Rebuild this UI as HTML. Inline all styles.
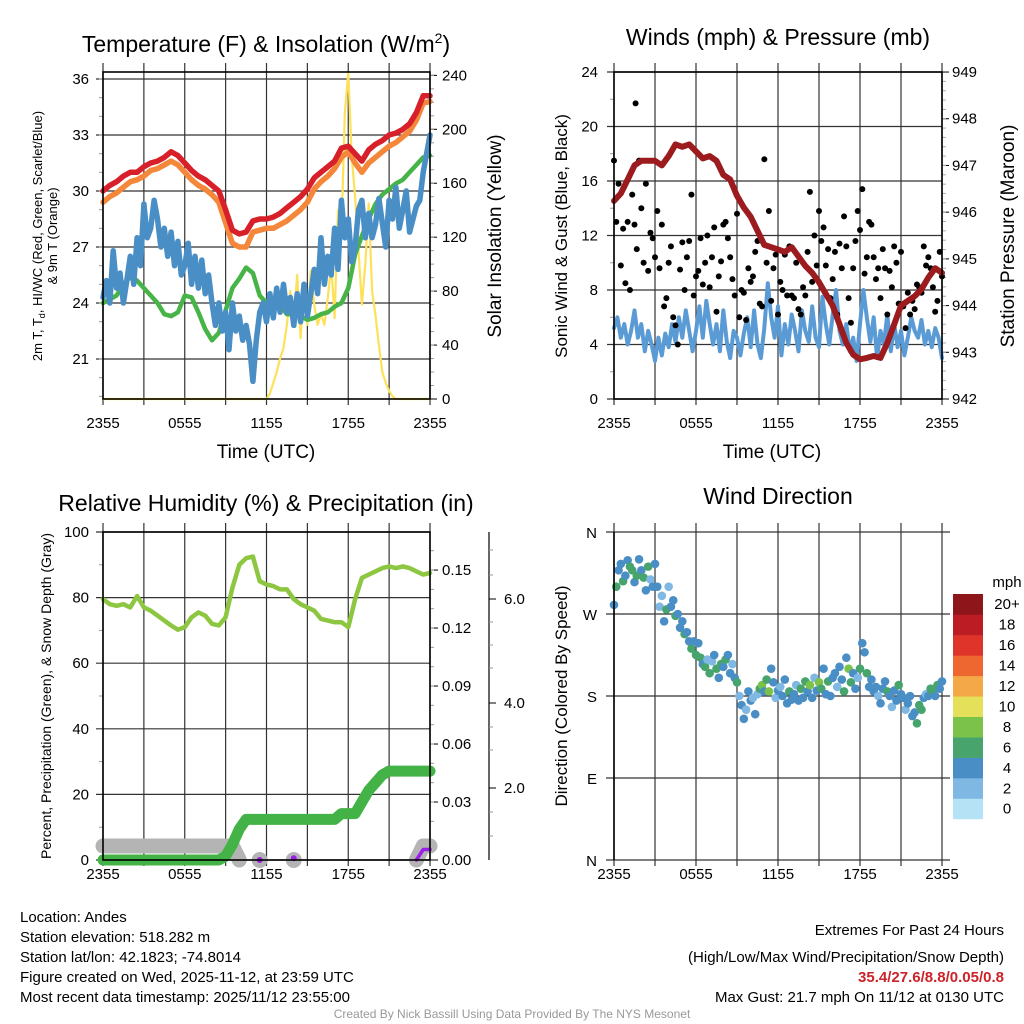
<!DOCTYPE html>
<html><head><meta charset="utf-8"><title>Mesonet Station Meteogram</title>
<style>
html,body{margin:0;padding:0;background:#fff;}
svg{display:block;font-family:"Liberation Sans",Arial,sans-serif;}
</style></head>
<body>
<svg id="chart" width="1024" height="1024" viewBox="0 0 1024 1024" xmlns="http://www.w3.org/2000/svg">
<rect x="0" y="0" width="1024" height="1024" fill="#fff"/>
</svg>
<script>
// ---------- DATA (series span 24h; time derived from index) ----------
const xTickLabels = ["2355","0555","1155","1755","2355"];
const tempTicks = [21,24,27,30,33,36];
const solarTicks = [0,40,80,120,160,200,240];
const windTicks = [0,4,8,12,16,20,24];
const presTicks = [942,943,944,945,946,947,948,949];
const rhTicks = [0,20,40,60,80,100];
const precipTicks = [0,0.03,0.06,0.09,0.12,0.15];
const precipTickLabels = ["0.00","0.03","0.06","0.09","0.12","0.15"];
const snowTickLabels = ["2.0","4.0","6.0"];
const dirTickLabels = ["N","W","S","E","N"];
const dirTicks = [360,270,180,90,0];
const cbarLabels = ["0","2","4","6","8","10","12","14","16","18","20+"];
const cbarColors = ["#b6e2f6","#7fb9e3","#4a8ec6","#47a46c","#7bc24b","#e5e05a","#f4a847","#ee6630","#df3429","#bc1c24","#8e1519"];

const temp2m = [30.0,30.3,30.5,30.8,31.0,31.0,31.3,31.5,31.6,31.8,32.1,31.9,31.5,31.1,30.8,30.6,30.3,30.0,29.0,27.9,27.7,27.8,28.4,28.5,28.5,28.6,28.8,29.1,29.4,29.7,30.1,30.7,31.0,31.3,31.6,32.3,32.4,32.0,31.6,32.2,32.5,32.7,33.0,33.1,33.3,33.6,34.2,35.1,35.1];
const temp9m = [29.4,29.7,29.9,30.2,30.5,30.6,30.8,31.1,31.2,31.4,31.6,31.4,31.0,30.6,30.3,30.1,29.8,29.4,28.3,27.2,27.0,27.0,27.8,27.9,28.0,28.0,28.2,28.4,28.7,29.0,29.4,30.1,30.5,30.8,31.2,31.8,32.1,31.5,31.0,31.5,31.8,32.1,32.4,32.6,32.9,33.2,33.8,34.7,34.8];
const heatWc = [24.0,24.2,24.4,25.0,25.4,25.2,24.8,24.4,24.0,23.4,23.3,23.5,24.4,24.3,23.5,22.6,22.0,22.4,23.6,24.8,25.3,25.9,25.6,24.4,24.0,23.9,23.9,23.4,23.4,23.3,23.1,23.2,23.4,23.5,23.8,24.0,24.8,26.6,27.6,28.5,29.3,29.8,30.1,30.4,30.6,31.0,31.4,31.8,31.9];
const dewpoint = [24.3,25.2,24.0,26.8,24.8,25.6,24.0,25.2,26.5,25.0,27.5,26.0,29.3,27.5,28.0,29.5,28.5,27.0,28.0,26.5,27.8,26.0,27.3,25.5,26.0,27.2,25.0,26.5,24.8,26.3,24.5,25.5,24.0,22.8,24.0,22.5,23.5,21.5,24.0,22.5,23.3,22.0,22.8,21.8,19.8,22.0,23.5,24.0,23.0,24.5,23.2,24.8,23.5,25.0,23.5,24.3,22.8,24.5,23.0,25.0,23.3,24.5,25.8,24.5,27.5,25.0,26.5,25.5,28.0,25.8,29.5,27.5,28.5,26.2,27.0,29.0,29.5,27.5,28.8,27.5,28.2,29.6,28.3,27.0,29.5,28.5,30.2,28.0,29.0,30.0,27.8,28.5,29.2,29.5,31.0,32.0,33.0];
const solar = [0,0,0,0,0,0,0,0,0,0,0,0,0,0,0,0,0,0,0,0,0,0,0,0,0,0,0,0,0,0,0,0,0,0,0,0,0,0,0,0,0,0,0,0,0,0,0,0,0,4,12,20,30,38,55,80,60,92,45,85,55,95,70,55,63,55,75,100,60,140,122,212,242,180,150,110,70,100,145,80,62,40,20,12,6,2,0,0,0,0,0,0,0,0,0,0,0];
const windSpeed = [5.2,6.0,4.5,5.5,4.0,5.0,6.5,4.5,5.5,3.5,5.0,4.0,2.8,4.5,3.2,4.8,3.8,5.5,4.2,6.0,4.5,6.5,5.0,3.5,5.0,6.8,4.5,7.2,5.5,4.0,5.5,3.5,6.5,4.2,3.0,5.0,4.5,3.2,4.8,6.0,3.8,6.5,4.0,3.0,5.2,8.5,6.0,4.5,6.8,3.2,5.5,4.0,6.2,5.0,3.5,6.5,5.0,4.2,6.8,4.5,3.8,7.5,5.5,4.0,6.2,8.0,5.0,4.0,5.5,3.5,4.5,2.8,5.5,8.0,6.0,4.2,6.0,3.0,5.0,4.0,6.2,3.5,5.5,3.8,5.0,3.2,4.5,6.0,5.0,4.5,5.8,4.0,5.0,3.8,5.2,4.5,3.0];
const gusts = [17.5,13,15.8,9.8,12.5,8.5, 13,8,15,12.8,11,17.5, 14,10,15.8,9.4,12.2,11.8, 10.4,13.8,9.6,12.8,6.8,7.4, 10,11.2,6,5.4,4,9.5, 11.5,8,10.4,11.6,15,7.6, 9,9.4,11.8,8.4,10,12, 8.2,10.4,12.6,6.4,9,10.1, 12.8,13,11.8,10.4,8.8,7.6, 13.6,6,8,7.8,5.8,9.6, 8.6,9,10.8,11.6,7,6.8, 17.6,10,13.8,7.2,9.6,10.6, 6.2,8.6,8,10.6,7.6,11.2, 7.6,7.4,10,6.6,6.2,8.2, 7.6,10.8,15.2,8.6,12,9.8, 13.8,11.6,12.6,9.8,11,7.4, 8.8,10.8,6.2,11.4,9.6,13.4, 11.2,7.4,5.6,9.6,11.6,13.8, 12.4,15.4,9.2,10.4,13.0,12.8, 10.4,8.8,9.6,7.4,11.0,9.6, 6.2,9.4,8.2,11.2,10.0,7.0, 10.8,6.8,5.2,7.8,6.2,7.2, 6.6,8.4,8.2,7.8,11.2,9.8, 10.4,9.6,8.2,6.4,7.2,10.8,9.0];
const maxGust = 21.7;
const maxGustHour = 1.58;
const pressure = [946.24,946.4,946.7,947.0,947.1,947.1,947.1,947.0,947.2,947.45,947.4,947.45,947.3,947.15,947.2,947.1,946.8,946.7,946.35,946.1,945.9,945.6,945.3,945.25,945.2,945.15,945.25,945.05,944.85,944.7,944.5,944.25,944.0,943.6,943.2,942.95,942.85,942.88,942.92,942.88,943.2,943.6,944.0,944.1,944.2,944.35,944.6,944.8,944.7];
const rh = [79.5,78,77.5,78,77,80.5,77,76,74.5,73,71.5,70.2,71,74,75.5,74.5,72,71.5,74,83,90,92,92.5,85,84,83.5,82.5,82.5,79.5,78,77,76,73.5,73,72.5,72.5,71,79.5,86,87,88,89,89.5,89,89.5,89,88,87,87.5];
const precip = [0,0,0,0,0,0,0,0,0,0,0,0,0,0,0,0,0,0,0.002,0.008,0.016,0.021,0.021,0.021,0.021,0.021,0.021,0.021,0.021,0.021,0.021,0.021,0.021,0.021,0.021,0.024,0.024,0.024,0.030,0.036,0.040,0.044,0.046,0.046,0.046,0.046,0.046,0.046,0.046];
const snowDepth = [0.8,0.8,0.8,0.8,0.8,0.8,0.8,0.8,0.8,0.8,0.8,0.8,0.8,0.8,0.8,0.8,0.8,0.8,0.8,0.8,0,null,null,0,null,null,null,null,0,null,null,null,null,null,null,null,null,null,null,null,null,null,null,null,null,null,0,0.8,0.8];
const newSnow = [null,null,null,null,null,null,null,null,null,null,null,null,null,null,null,null,null,null,null,null,null,null,null,0,null,null,null,null,0.1,null,null,null,null,null,null,null,null,null,null,null,null,null,null,null,null,null,0,0.6,0.6];
const windDir = [280,300,318,325,306,312, 329,322,318,305,312,330, 318,310,296,322,308,300, 325,300,278,290,262,275, 300,278,285,268,270,255, 262,248,250,240,232,240, 225,238,222,215,212,220, 205,218,225,210,200,215, 212,220,225,205,215,200, 195,180,170,155,165,185, 175,178,160,182,188,192, 185,198,185,210,195,178, 186,190,180,198,172,185, 176,182,192,175,188,178, 196,185,192,178,200,186, 195,188,210,182,196,180, 200,205,190,212,198,185, 222,210,195,205,188,200, 210,238,228,205,190,198, 185,190,180,172,188,196, 185,180,168,186,175,192, 182,178,165,172,180,158, 162,150,170,165,178,182, 180,188,185,180,192,188,196];
const dirSpeed = [4,6,4,4,6,4, 4,6,6,4,6,4, 4,6,4,6,2,4, 4,4,2,2,4,6, 2,4,4,6,4,4, 4,6,4,4,6,4, 6,4,6,4,6,2, 6,2,4,6,4,6, 4,6,4,4,2,4, 6,2,4,4,2,4, 4,2,4,2,6,8, 4,6,8,4,4,2, 4,2,4,4,4,6, 4,4,2,4,6,4, 6,4,8,4,2,4, 8,6,4,4,6,4, 4,4,2,4,4,6, 4,8,6,4,4,2, 6,4,4,6,4,4, 4,4,2,4,4,4, 6,4,2,4,4,6, 4,4,2,4,4,4, 4,6,6,6,4,2, 4,6,6,4,6,4,4];

// ---------- DRAWING ----------
const NS = "http://www.w3.org/2000/svg";
const svg = document.getElementById("chart");
function mk(tag, attrs, name, parent) {
  const el = document.createElementNS(NS, tag);
  for (const k in attrs) el.setAttribute(k, attrs[k]);
  
  
  (parent || svg).appendChild(el);
  return el;
}
function txt(x, y, s, size, anchor, name, parent, extra) {
  const a = {x: x, y: y, "font-size": size, "text-anchor": anchor || "start", fill: "#000"};
  if (extra) for (const k in extra) a[k] = extra[k];
  const el = mk("text", a, name, parent);
  el.textContent = s;
  return el;
}
function xScale(L, R) { return t => L + t / 24 * (R - L); }
function series(vals, xs, ys) {
  const n = vals.length; let d = ""; let pen = false;
  for (let i = 0; i < n; i++) {
    const v = vals[i];
    if (v === null) { pen = false; continue; }
    const x = xs(i * 24 / (n - 1)), y = ys(v);
    d += (pen ? "L" : "M") + x.toFixed(1) + " " + y.toFixed(1);
    pen = true;
  }
  return d;
}
function isolated(vals, xs, ys, r, color, name, g) {
  const n = vals.length;
  for (let i = 0; i < n; i++) {
    if (vals[i] === null) continue;
    const prev = i > 0 ? vals[i - 1] : null, next = i < n - 1 ? vals[i + 1] : null;
    if (prev === null && next === null) {
      mk("circle", {cx: xs(i * 24 / (n - 1)), cy: ys(vals[i]), r: r, fill: color}, name, g);
    }
  }
}
function frame(P, name, lblOff) {
  const g = mk("g", {}, name);
  const xs = xScale(P.L, P.R);
  for (let h = 0; h <= 24; h += 3) {
    const x = xs(h);
    mk("line", {x1: x, x2: x, y1: P.T - 9, y2: P.B + 6, stroke: "#333", "stroke-width": 1.2}, "x-gridline", g);
  }
  for (let i = 0; i < xTickLabels.length; i++) {
    txt(xs(i * 6), P.B + lblOff, xTickLabels[i], 15, "middle", "x-tick-label", g);
  }
  return g;
}
function hgrid(P, y, g, extL, extR) {
  mk("line", {x1: P.L - (extL || 7), x2: P.R + (extR || 0), y1: y, y2: y, stroke: "#333", "stroke-width": 1.2}, "y-gridline", g);
}
function box(P, g) {
  mk("rect", {x: P.L, y: P.T, width: P.R - P.L, height: P.B - P.T, fill: "none", stroke: "#000", "stroke-width": 1.6}, "plot-frame", g);
}

// ===== Panel 1 =====
const P1 = {L: 103, R: 430, T: 72, B: 399};
const x1s = xScale(P1.L, P1.R);
const yT = v => 359 - (v - 21) * 18.667;
const yS = v => 399 - v * 1.3485;
const g1 = frame(P1, "temperature-panel", 29);
tempTicks.forEach(v => { hgrid(P1, yT(v), g1); txt(P1.L - 14, yT(v) + 5, String(v), 15, "end", "temp-tick-label", g1); });
for (let v = 19; v <= 36; v++) mk("line", {x1: P1.L - 4, x2: P1.L, y1: yT(v), y2: yT(v), stroke: "#999"}, "temp-minor-tick", g1);
solarTicks.forEach(v => {
  mk("line", {x1: P1.R, x2: P1.R + 7, y1: yS(v), y2: yS(v), stroke: "#000"}, "solar-tick", g1);
  txt(P1.R + 12, yS(v) + 5, String(v), 15, "start", "solar-tick-label", g1);
});
for (let v = 10; v <= 240; v += 10) mk("line", {x1: P1.R, x2: P1.R + 4, y1: yS(v), y2: yS(v), stroke: "#999"}, "solar-minor-tick", g1);
mk("path", {d: series(solar, x1s, yS), fill: "none", stroke: "#fde15a", "stroke-width": 2.2, "stroke-linejoin": "round"}, "solar-insolation-line", g1);
mk("path", {d: series(heatWc, x1s, yT), fill: "none", stroke: "#46b446", "stroke-width": 4.5, "stroke-linejoin": "round", "stroke-linecap": "round"}, "heat-index-line", g1);
mk("path", {d: series(dewpoint, x1s, yT), fill: "none", stroke: "#4a8ec6", "stroke-width": 5.5, "stroke-linejoin": "round", "stroke-linecap": "round"}, "dewpoint-line", g1);
mk("path", {d: series(temp9m, x1s, yT), fill: "none", stroke: "#f4873a", "stroke-width": 5.5, "stroke-linejoin": "round", "stroke-linecap": "round"}, "temp-9m-line", g1);
mk("path", {d: series(temp2m, x1s, yT), fill: "none", stroke: "#d7202a", "stroke-width": 5.5, "stroke-linejoin": "round", "stroke-linecap": "round"}, "temp-2m-line", g1);
box(P1, g1);
const t1 = txt(266, 52, "Temperature (F) & Insolation (W/m", 23, "middle", "temperature-title", g1);
const sup = document.createElementNS(NS, "tspan"); sup.setAttribute("dy", -9); sup.setAttribute("font-size", 14); sup.textContent = "2";


t1.appendChild(sup);
const cl = document.createElementNS(NS, "tspan"); cl.setAttribute("dy", 9); cl.textContent = ")";


t1.appendChild(cl);
txt(266, 458, "Time (UTC)", 19, "middle", "temperature-x-title", g1);
const yl1 = mk("g", {transform: "translate(42,236) rotate(-90)"}, "temperature-y-title", g1);
const yl1t = txt(0, 0, "2m T, T", 13, "middle", "temperature-y-title-line1", yl1);
const sub = document.createElementNS(NS, "tspan"); sub.setAttribute("font-size", 9); sub.setAttribute("dy", 3); sub.textContent = "d";


yl1t.appendChild(sub);
const rest = document.createElementNS(NS, "tspan"); rest.setAttribute("dy", -3); rest.textContent = ", HI/WC (Red, Green, Scarlet/Blue)";


yl1t.appendChild(rest);
txt(0, 15, "& 9m T (Orange)", 13, "middle", "temperature-y-title-line2", yl1);
txt(0, 0, "Solar Insolation (Yellow)", 19, "middle", "solar-y-title", g1, {transform: "translate(501,236) rotate(-90)"});

// ===== Panel 2 =====
const P2 = {L: 614, R: 942, T: 72, B: 399};
const x2s = xScale(P2.L, P2.R);
const yW = v => 399 - v * 13.625;
const yP = v => 399 - (v - 942) * 46.71;
const g2 = frame(P2, "winds-panel", 29);
windTicks.forEach(v => { hgrid(P2, yW(v), g2); txt(P2.L - 16, yW(v) + 5, String(v), 15, "end", "wind-tick-label", g2); });
for (let v = 2; v <= 22; v += 4) mk("line", {x1: P2.L - 4, x2: P2.L, y1: yW(v), y2: yW(v), stroke: "#999"}, "wind-minor-tick", g2);
presTicks.forEach(v => {
  mk("line", {x1: P2.R, x2: P2.R + 7, y1: yP(v), y2: yP(v), stroke: "#000"}, "pressure-tick", g2);
  txt(P2.R + 10, yP(v) + 5, String(v), 15, "start", "pressure-tick-label", g2);
});
for (let v = 942.2; v < 949; v += 0.2) mk("line", {x1: P2.R, x2: P2.R + 4, y1: yP(v), y2: yP(v), stroke: "#aaa"}, "pressure-minor-tick", g2);
mk("path", {d: series(windSpeed, x2s, yW), fill: "none", stroke: "#5b9bd5", "stroke-width": 4, "stroke-linejoin": "round", "stroke-linecap": "round"}, "wind-speed-line", g2);
for (let i = 0; i < gusts.length; i++) {
  mk("circle", {cx: x2s(i * 24 / (gusts.length - 1)), cy: yW(gusts[i]), r: 3, fill: "#000"}, "gust-point", g2);
}
mk("circle", {cx: x2s(maxGustHour), cy: yW(maxGust), r: 3, fill: "#000"}, "max-gust-point", g2);
mk("path", {d: series(pressure, x2s, yP), fill: "none", stroke: "#9b1b1e", "stroke-width": 6, "stroke-linejoin": "round", "stroke-linecap": "round"}, "pressure-line", g2);
box(P2, g2);
txt(778, 45, "Winds (mph) & Pressure (mb)", 23, "middle", "winds-title", g2);
txt(772, 458, "Time (UTC)", 19, "middle", "winds-x-title", g2);
txt(0, 0, "Sonic Wind & Gust (Blue, Black)", 17, "middle", "wind-y-title", g2, {transform: "translate(567,236) rotate(-90)"});
txt(0, 0, "Station Pressure (Maroon)", 19, "middle", "pressure-y-title", g2, {transform: "translate(1014,236) rotate(-90)"});

// ===== Panel 3 =====
const P3 = {L: 103, R: 430, T: 532, B: 860};
const x3s = xScale(P3.L, P3.R);
const yRH = v => 860 - v * 3.28;
const yPr = v => 860 - v * 1933;
const ySn = v => 860 - v * 17.5;
const g3 = frame(P3, "humidity-panel", 19);
rhTicks.forEach(v => { hgrid(P3, yRH(v), g3); txt(P3.L - 14, yRH(v) + 5, String(v), 15, "end", "rh-tick-label", g3); });
for (let v = 10; v <= 90; v += 20) mk("line", {x1: P3.L - 4, x2: P3.L, y1: yRH(v), y2: yRH(v), stroke: "#999"}, "rh-minor-tick", g3);
precipTicks.forEach((v, i) => {
  mk("line", {x1: P3.R, x2: P3.R + 8, y1: yPr(v), y2: yPr(v), stroke: "#000"}, "precip-tick", g3);
  txt(P3.R + 12, yPr(v) + 5, precipTickLabels[i], 15, "start", "precip-tick-label", g3);
});
for (let v = 0.01; v < 0.17; v += 0.01) mk("line", {x1: P3.R, x2: P3.R + 4, y1: yPr(v), y2: yPr(v), stroke: "#999"}, "precip-minor-tick", g3);
mk("line", {x1: 489, x2: 489, y1: 532, y2: 860, stroke: "#333", "stroke-width": 1.5}, "snow-axis-line", g3);
const snowTickY = [788, 703, 599];
snowTickLabels.forEach((s, i) => {
  mk("line", {x1: 489, x2: 496, y1: snowTickY[i], y2: snowTickY[i], stroke: "#000"}, "snow-tick", g3);
  txt(504, snowTickY[i] + 5, s, 15, "start", "snow-tick-label", g3);
});
[550, 575, 622, 645, 668, 727, 750, 812, 836].forEach(y => mk("line", {x1: 489, x2: 493, y1: y, y2: y, stroke: "#999"}, "snow-minor-tick", g3));
mk("path", {d: series(snowDepth, x3s, ySn), fill: "none", stroke: "#b4b4b4", "stroke-width": 15, "stroke-linejoin": "round", "stroke-linecap": "round"}, "snow-depth-line", g3);
isolated(snowDepth, x3s, ySn, 8, "#b4b4b4", "snow-depth-point", g3);
mk("path", {d: series(newSnow, x3s, ySn), fill: "none", stroke: "#9b1fe8", "stroke-width": 3.5, "stroke-linejoin": "round", "stroke-linecap": "round"}, "new-snow-line", g3);
isolated(newSnow, x3s, ySn, 3, "#9b1fe8", "new-snow-point", g3);
mk("path", {d: series(precip, x3s, yPr), fill: "none", stroke: "#43b347", "stroke-width": 11, "stroke-linejoin": "round", "stroke-linecap": "round"}, "precipitation-line", g3);
mk("path", {d: series(rh, x3s, yRH), fill: "none", stroke: "#8dc641", "stroke-width": 4.5, "stroke-linejoin": "round", "stroke-linecap": "round"}, "relative-humidity-line", g3);
box(P3, g3);
txt(266, 511, "Relative Humidity (%) & Precipitation (in)", 23, "middle", "humidity-title", g3);
txt(0, 0, "Percent, Precipitation (Green), & Snow Depth (Gray)", 14, "middle", "humidity-y-title", g3, {transform: "translate(51,696) rotate(-90)"});

// ===== Panel 4 =====
const P4 = {L: 614, R: 942, T: 532, B: 860};
const x4s = xScale(P4.L, P4.R);
const yD = d => 860 - d / 360 * 328;
const g4 = frame(P4, "wind-direction-panel", 19);
dirTicks.forEach((d, i) => { hgrid(P4, yD(d), g4, 8, 8); txt(P4.L - 17, yD(d) + 6, dirTickLabels[i], 15, "end", "direction-tick-label", g4); });
for (let i = 0; i < windDir.length; i++) {
  const k = Math.min(10, Math.floor((dirSpeed[i] + 1) / 2));
  mk("circle", {cx: x4s(i * 24 / (windDir.length - 1)), cy: yD(windDir[i]), r: 4.3, fill: cbarColors[k]}, "direction-point", g4);
}
mk("line", {x1: P4.L, x2: P4.L, y1: P4.T, y2: P4.B, stroke: "#000", "stroke-width": 1.6}, "direction-left-axis", g4);
txt(778, 504, "Wind Direction", 23, "middle", "wind-direction-title", g4);
txt(0, 0, "Direction (Colored By Speed)", 17, "middle", "direction-y-title", g4, {transform: "translate(567,696) rotate(-90)"});
const cb = mk("g", {}, "speed-colorbar");
const cbTop = 594, cbH = 20.45;
for (let i = 0; i < cbarColors.length; i++) {
  const y = cbTop + (cbarColors.length - 1 - i) * cbH;
  mk("rect", {x: 953, y: y, width: 30, height: cbH + 0.3, fill: cbarColors[i]}, "colorbar-bin", cb);
  txt(1007, y + cbH / 2 + 5, cbarLabels[i], 15, "middle", "colorbar-label", cb);
}
txt(1007, 587, "mph", 15, "middle", "colorbar-title", cb);

// ===== Footer =====
const ft = mk("g", {}, "footer");
const leftLines = ["Location: Andes", "Station elevation: 518.282 m", "Station lat/lon: 42.1823; -74.8014", "Figure created on Wed, 2025-11-12, at 23:59 UTC", "Most recent data timestamp: 2025/11/12 23:55:00"];
leftLines.forEach((s, i) => txt(20, 922 + i * 20, s, 15, "start", "station-info-line", ft));
txt(1004, 935, "Extremes For Past 24 Hours", 15, "end", "extremes-title", ft);
txt(1004, 962, "(High/Low/Max Wind/Precipitation/Snow Depth)", 15, "end", "extremes-subtitle", ft);
txt(1004, 982, "35.4/27.6/8.8/0.05/0.8", 15, "end", "extremes-values", ft, {fill: "#cc2229", "font-weight": "bold"});
txt(1004, 1002, "Max Gust: 21.7 mph On 11/12 at 0130 UTC", 15, "end", "max-gust-text", ft);
txt(512, 1018, "Created By Nick Bassill Using Data Provided By The NYS Mesonet", 12, "middle", "credit-text", ft, {fill: "#999"});
</script>
</body></html>
